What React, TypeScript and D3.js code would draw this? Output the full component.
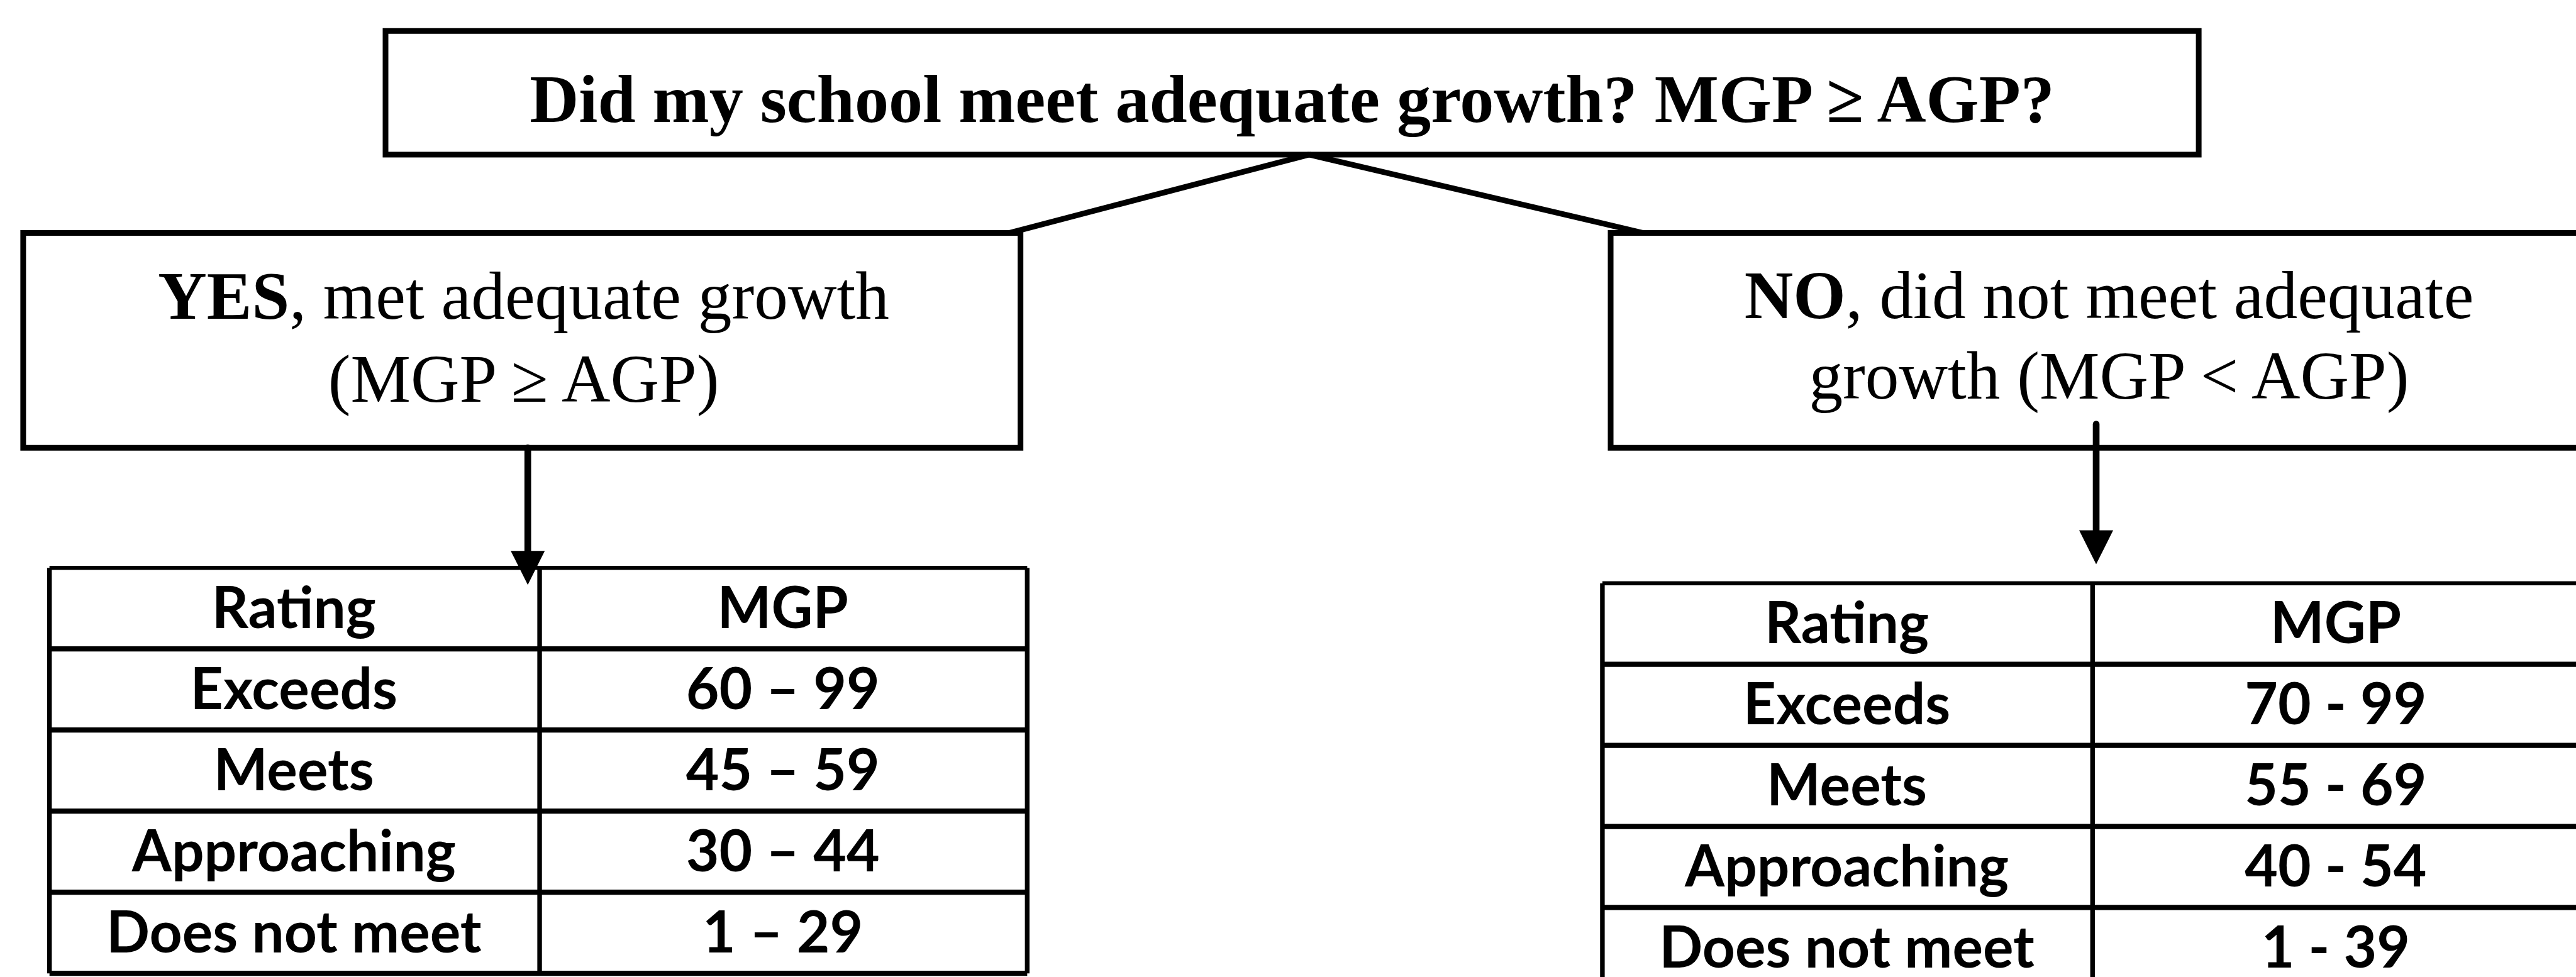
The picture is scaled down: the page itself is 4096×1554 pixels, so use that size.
import React, { useEffect, useRef } from 'react';
import * as d3 from 'd3';

// table content
const headers = ['Rating', 'MGP'];
const ratings = ['Exceeds', 'Meets', 'Approaching', 'Does not meet'];
const yesRanges = ['60 – 99', '45 – 59', '30 – 44', '1 – 29'];
const noRanges = ['70 - 99', '55 - 69', '40 - 54', '1 - 39'];

// box texts: [bold part, regular part] per line
const question = 'Did my school meet adequate growth? MGP ≥ AGP?';
const yesLines = [['YES', ', met adequate growth'], ['', '(MGP ≥ AGP)']];
const noLines = [['NO', ', did not meet adequate'], ['', 'growth (MGP < AGP)']];

const W = 4998;
const H = 1896;
const SERIF = '"Liberation Serif", "Times New Roman", serif';
const SANS = 'Lato, "Open Sans", sans-serif';

const App = () => {
  const svgRef = useRef<SVGSVGElement>(null);

  useEffect(() => {
    const svg = d3.select(svgRef.current);
    svg.selectAll('*').remove();
    const g = svg.append('g');

    // Boxes
    const boxes = [
      { x0: 748, x1: 4266, y0: 60, y1: 300 },
      { x0: 45, x1: 1980, y0: 452, y1: 869 },
      { x0: 3125, x1: 5060, y0: 452, y1: 869 },
    ];
    g.selectAll('.box').data(boxes).join('rect')
      .attr('class', 'box')
      .attr('x', (d) => d.x0)
      .attr('y', (d) => d.y0)
      .attr('width', (d) => d.x1 - d.x0)
      .attr('height', (d) => d.y1 - d.y0)
      .attr('fill', 'none')
      .attr('stroke', '#000')
      .attr('stroke-width', 11);

    // connectors from question box to answers
    const connectors = [
      [[2540, 300], [1958, 452]],
      [[2540, 300], [3188, 452]],
    ];
    g.selectAll('.conn').data(connectors).join('path')
      .attr('class', 'conn')
      .attr('d', (d) => d3.line()(d as [number, number][]))
      .attr('stroke', '#000')
      .attr('stroke-width', 11)
      .attr('fill', 'none');

    // Arrows
    const arrows = [
      { x: 1024, y0: 869, tip: 1135 },
      { x: 4067, y0: 823, tip: 1095 },
    ];
    const headLen = 66;
    const headHalf = 33;
    arrows.forEach((a) => {
      g.append('line')
        .attr('x1', a.x).attr('x2', a.x)
        .attr('y1', a.y0).attr('y2', a.tip - headLen + 2)
        .attr('stroke', '#000')
        .attr('stroke-width', 13)
        .attr('stroke-linecap', 'round');
      g.append('path')
        .attr('d', d3.line()([
          [a.x - headHalf, a.tip - headLen],
          [a.x + headHalf, a.tip - headLen],
          [a.x, a.tip],
        ]) + 'Z')
        .attr('fill', '#000');
    });

    // Question text
    g.append('text')
      .attr('x', 2507)
      .attr('y', 237)
      .attr('text-anchor', 'middle')
      .style('font-family', SERIF)
      .style('font-size', '132px')
      .style('font-weight', 'bold')
      .text(question);

    const answerText = (lines: string[][], cx: number, ys: number[]) => {
      lines.forEach((ln, i) => {
        const t = g.append('text')
          .attr('x', cx)
          .attr('y', ys[i])
          .attr('text-anchor', 'middle')
          .style('font-family', SERIF)
          .style('font-size', '131px');
        if (ln[0]) t.append('tspan').style('font-weight', 'bold').text(ln[0]);
        t.append('tspan').text(ln[1]);
      });
    };
    answerText(yesLines, 1016, [618, 780]);
    answerText(noLines, 4092, [617, 773]);

    // Tables
    const drawTable = (ranges: string[], xs: number[], top: number, rowH: number) => {
      const rows = [headers, ...ratings.map((r, i) => [r, ranges[i]])];
      const y = d3.scaleBand<number>()
        .domain(d3.range(rows.length))
        .range([top, top + rows.length * rowH]);
      const x = d3.scaleBand<number>()
        .domain([0, 1])
        .range([xs[0], xs[2]]);

      const tg = g.append('g');
      // horizontal lines
      tg.selectAll('.hline').data(d3.range(rows.length + 1)).join('line')
        .attr('class', 'hline')
        .attr('x1', xs[0]).attr('x2', xs[2])
        .attr('y1', (i) => top + i * rowH)
        .attr('y2', (i) => top + i * rowH)
        .attr('stroke', '#000')
        .attr('stroke-width', (i) => (i === 0 ? 8 : 10));
      // vertical lines
      tg.selectAll('.vline').data(xs).join('line')
        .attr('class', 'vline')
        .attr('x1', (d) => d).attr('x2', (d) => d)
        .attr('y1', top).attr('y2', top + rows.length * rowH)
        .attr('stroke', '#000')
        .attr('stroke-width', 9);
      // cell text
      rows.forEach((row, ri) => {
        row.forEach((cell, ci) => {
          tg.append('text')
            .attr('x', (x(ci) as number) + x.bandwidth() / 2)
            .attr('y', (y(ri) as number) + y.bandwidth() / 2 + 38)
            .attr('text-anchor', 'middle')
            .style('font-family', SANS)
            .style('font-weight', 'bold')
            .style('font-size', '111px')
            .text(cell);
        });
      });
    };
    drawTable(yesRanges, [96, 1047, 1993], 1102, 157.4);
    drawTable(noRanges, [3109, 4060, 5006], 1132, 157.3);
  }, []);

  return (
    <svg
      ref={svgRef}
      width={4096}
      height={1554}
      viewBox={`0 0 ${W} ${H}`}
      style={{ position: 'absolute', left: 0, top: 0, background: '#fff' }}
    />
  );
};

export default App;
